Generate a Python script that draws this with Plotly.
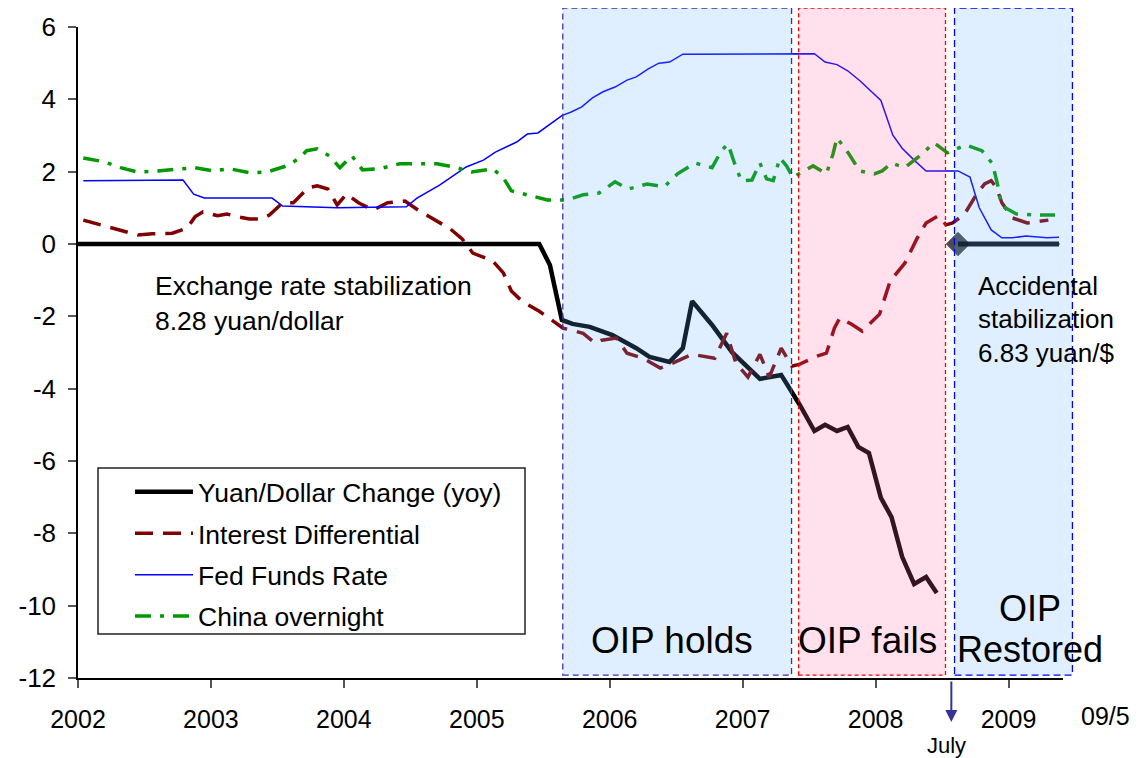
import plotly.graph_objects as go

# ---------------- data ----------------
yuan_x = [2002.0, 2005.47, 2005.55, 2005.64, 2005.72, 2005.85, 2006.02, 2006.20, 2006.30, 2006.45,
          2006.55, 2006.62, 2006.77, 2006.92, 2007.13, 2007.29, 2007.43, 2007.54, 2007.62, 2007.71,
          2007.79, 2007.87, 2007.95, 2008.04, 2008.12, 2008.20, 2008.29, 2008.38, 2008.46]
yuan_y = [0, 0, -0.58, -2.10, -2.21, -2.29, -2.52, -2.88, -3.12, -3.26,
          -2.88, -1.58, -2.24, -2.99, -3.73, -3.62, -4.45, -5.17, -5.00, -5.17,
          -5.06, -5.61, -5.78, -7.02, -7.55, -8.65, -9.40, -9.21, -9.65]

id_x = [2002.04, 2002.20, 2002.32, 2002.45, 2002.56, 2002.71, 2002.82, 2002.88, 2002.94, 2003.05,
        2003.12, 2003.20, 2003.29, 2003.38, 2003.44, 2003.54, 2003.62, 2003.67, 2003.73, 2003.80,
        2003.88, 2003.95, 2004.02, 2004.11, 2004.22, 2004.33, 2004.46, 2004.57, 2004.70, 2004.80,
        2004.89, 2004.97, 2005.12, 2005.20, 2005.26, 2005.34, 2005.47, 2005.57, 2005.65, 2005.71,
        2005.80, 2005.89, 2005.94, 2006.05, 2006.13, 2006.25, 2006.38, 2006.47, 2006.62, 2006.79,
        2006.88, 2006.95, 2007.04, 2007.13, 2007.20, 2007.29, 2007.37, 2007.43, 2007.56, 2007.63,
        2007.69, 2007.73, 2007.82, 2007.90, 2008.03, 2008.11, 2008.22, 2008.31, 2008.38, 2008.47,
        2008.53, 2008.58, 2008.67, 2008.76, 2008.82, 2008.87, 2008.91, 2008.95, 2009.03, 2009.14,
        2009.30]
id_y = [0.66, 0.50, 0.39, 0.25, 0.28, 0.30, 0.44, 0.75, 0.89, 0.78,
        0.83, 0.75, 0.69, 0.69, 0.80, 1.14, 1.14, 1.33, 1.55, 1.61,
        1.52, 1.08, 1.38, 1.14, 0.94, 1.14, 1.19, 0.91, 0.64, 0.42,
        0.14, -0.25, -0.47, -0.80, -1.30, -1.58, -1.86, -2.13, -2.33, -2.38,
        -2.47, -2.74, -2.66, -2.60, -3.02, -3.16, -3.43, -3.30, -3.05, -3.16,
        -2.47, -3.30, -3.68, -3.05, -3.68, -2.88, -3.38, -3.32, -3.10, -3.02,
        -2.33, -2.05, -2.22, -2.41, -1.94, -1.02, -0.53, 0.14, 0.58, 0.78,
        0.53, 0.58, 0.83, 1.38, 1.66, 1.75, 1.55, 1.14, 0.72, 0.58,
        0.66]

ff_x = [2002.04, 2002.79, 2002.87, 2002.95, 2003.46, 2003.54, 2003.95, 2004.20, 2004.47, 2004.55,
        2004.72, 2004.92, 2005.05, 2005.14, 2005.30, 2005.38, 2005.46, 2005.64, 2005.71, 2005.79,
        2005.87, 2005.95, 2006.04, 2006.13, 2006.20, 2006.29, 2006.37, 2006.45, 2006.55, 2007.54,
        2007.62, 2007.71, 2007.79, 2007.88, 2007.95, 2008.04, 2008.13, 2008.20, 2008.29, 2008.38,
        2008.62, 2008.71, 2008.78, 2008.87, 2008.95, 2009.03, 2009.13, 2009.29, 2009.38]
ff_y = [1.75, 1.77, 1.38, 1.27, 1.27, 1.05, 1.00, 1.02, 1.03, 1.27,
        1.63, 2.13, 2.32, 2.54, 2.82, 3.04, 3.07, 3.55, 3.65, 3.79,
        4.04, 4.21, 4.34, 4.53, 4.62, 4.84, 5.00, 5.03, 5.25, 5.26,
        5.03, 4.96, 4.79, 4.52, 4.28, 3.97, 3.01, 2.65, 2.32, 2.02,
        2.02, 1.85, 1.00, 0.39, 0.17, 0.17, 0.22, 0.17, 0.19]

co_x = [2002.04, 2002.20, 2002.32, 2002.45, 2002.60, 2002.75, 2002.88, 2003.02, 2003.14, 2003.29,
        2003.42, 2003.57, 2003.67, 2003.72, 2003.80, 2003.89, 2003.97, 2004.06, 2004.14, 2004.27,
        2004.42, 2004.55, 2004.70, 2004.83, 2004.96, 2005.12, 2005.20, 2005.26, 2005.40, 2005.53,
        2005.68, 2005.80, 2005.92, 2006.04, 2006.14, 2006.28, 2006.41, 2006.51, 2006.64, 2006.77,
        2006.84, 2006.89, 2006.94, 2006.99, 2007.07, 2007.13, 2007.18, 2007.23, 2007.28, 2007.33,
        2007.38, 2007.41, 2007.53, 2007.63, 2007.68, 2007.71, 2007.80, 2007.88, 2007.99, 2008.05,
        2008.12, 2008.22, 2008.35, 2008.44, 2008.54, 2008.68, 2008.80, 2008.88, 2008.92, 2008.95,
        2009.06, 2009.20, 2009.35]
co_y = [2.38, 2.27, 2.11, 1.99, 2.02, 2.08, 2.11, 2.02, 2.08, 1.97,
        1.99, 2.16, 2.38, 2.58, 2.63, 2.44, 2.11, 2.44, 2.05, 2.08,
        2.22, 2.22, 2.22, 2.13, 1.99, 2.08, 1.83, 1.47, 1.33, 1.22,
        1.22, 1.36, 1.41, 1.72, 1.52, 1.66, 1.58, 1.94, 2.24, 2.11,
        2.58, 2.77, 2.22, 1.75, 1.77, 2.24, 1.80, 1.75, 2.38, 2.16,
        1.83, 1.91, 2.16, 1.94, 2.49, 2.94, 2.49, 2.02, 1.94, 2.02,
        2.24, 2.11, 2.49, 2.80, 2.52, 2.74, 2.58, 2.22, 1.61, 1.05,
        0.83, 0.80, 0.80]

# accidental stabilization segment (6.83 yuan/$ peg)
stab_x = [2008.62, 2009.38]
stab_y = [0, 0]

# shaded regimes
regime_start = [2005.647, 2007.421, 2008.594]
regime_end = [2007.368, 2008.526, 2009.481]

tick_years = [2002, 2003, 2004, 2005, 2006, 2007, 2008, 2009]
tick_text = ["2002", "2003", "2004", "2005", "2006", "2007", "2008", "2009"]
y_ticks = [6, 4, 2, 0, -2, -4, -6, -8, -10, -12]
y_text = ["6", "4", "2", "0", "-2", "-4", "-6", "-8", "-10", "-12"]

X0, X1 = 2002.0, 2009.41
Y0, Y1 = -12.0, 6.0
FONT = "Arial, Liberation Sans, sans-serif"

fig = go.Figure()
fig.add_trace(go.Scatter(x=yuan_x, y=yuan_y, mode="lines", name="Yuan/Dollar Change (yoy)",
                         legendgroup="a", line=dict(color="#000000", width=4.5)))
fig.add_trace(go.Scatter(x=id_x, y=id_y, mode="lines", name="Interest Differential",
                         legendgroup="b", line=dict(color="#800000", width=3.5, dash="18px,10px")))
fig.add_trace(go.Scatter(x=ff_x, y=ff_y, mode="lines", name="Fed Funds Rate",
                         legendgroup="c", line=dict(color="#0000ff", width=1.5)))
fig.add_trace(go.Scatter(x=co_x, y=co_y, mode="lines", name="China overnight",
                         legendgroup="d", line=dict(color="#009900", width=3.5, dash="16px,9px,4px,9px")))
fig.add_trace(go.Scatter(x=stab_x, y=stab_y, mode="lines+markers", showlegend=False,
                         line=dict(color="#0a1018", width=5),
                         marker=dict(symbol=["diamond", "circle"], size=[18, 1], color="#000000")))


def px(year):
    return (year - X0) / (X1 - X0)


def py(v):
    return (v - Y0) / (Y1 - Y0)


fills = ["rgba(100,175,255,0.2)", "rgba(255,100,160,0.2)", "rgba(100,175,255,0.2)"]
borders = [("#3333aa", "6px,4px"), ("#ff0000", "4px,3px"), ("#0000ff", "7px,4px")]
shapes = []
for s, e, f, (bc, bd) in zip(regime_start, regime_end, fills, borders):
    shapes.append(dict(type="rect", xref="paper", yref="paper",
                       x0=px(s), x1=px(e), y0=py(-11.92), y1=py(6.525),
                       fillcolor=f, line=dict(color=bc, width=1.3, dash=bd), layer="above"))

# legend box (pixel geometry of the reference relative to the plot area)
PW, PH = 985.0, 651.0
shapes.append(dict(type="rect", xref="paper", yref="paper",
                   x0=(98 - 78) / PW, x1=(525 - 78) / PW,
                   y0=(678 - 634) / PH, y1=(678 - 468) / PH,
                   fillcolor="white", line=dict(color="#222", width=1.5), layer="above"))

annots = []
def txt(x, y, t, size=26, xanchor="center", xref="x", yref="y"):
    annots.append(dict(x=x, y=y, xref=xref, yref=yref, text=t, showarrow=False,
                       xanchor=xanchor, yanchor="middle", font=dict(family=FONT, size=size, color="#000")))

txt(2002.564, -1.16, "Exchange rate stabilization", size=26.5, xanchor="left")
txt(2002.564, -2.13, "8.28 yuan/dollar", size=26.5, xanchor="left")
txt(2008.757, -1.16, "Accidental", xanchor="left")
txt(2008.757, -2.07, "stabilization", xanchor="left")
txt(2008.757, -3.01, "6.83 yuan/$", xanchor="left")
txt(2006.47, -10.97, "OIP holds", size=37)
txt(2007.94, -10.97, "OIP fails", size=37)
txt(2009.16, -10.09, "OIP", size=36)
txt(2009.16, -11.20, "Restored", size=36)
txt(px(2008.53), -0.103, "July", size=22, xref="paper", yref="paper")
txt(px(2009.727), -0.058, "09/5", size=25, xref="paper", yref="paper")

annots.append(dict(x=2008.57, y=-0.0676, xref="x", yref="paper", text="", showarrow=True,
                   ax=0, ay=-42, arrowhead=2, arrowsize=1.2, arrowwidth=2, arrowcolor="#333399"))

fig.update_layout(
    width=1140, height=758,
    margin=dict(l=70, r=85, t=19, b=88, autoexpand=False),
    paper_bgcolor="white", plot_bgcolor="white",
    font=dict(family=FONT, color="#000"),
    shapes=shapes, annotations=annots,
    showlegend=True,
    legend=dict(x=(130 - 78) / PW, y=(678 - 468) / PH, xanchor="left", yanchor="top",
                bgcolor="rgba(0,0,0,0)", borderwidth=0,
                font=dict(family=FONT, size=26.5, color="#000"), itemwidth=58,
                tracegroupgap=4),
    xaxis=dict(range=[X0, X1], tickmode="array", tickvals=tick_years, ticktext=tick_text,
               showgrid=False, zeroline=False, showline=True, linecolor="#000", linewidth=1.5,
               ticks="outside", ticklen=8, tickcolor="#555", tickwidth=1.5, automargin=False,
               tickfont=dict(family=FONT, size=25, color="#000"), ticklabelstandoff=10),
    yaxis=dict(range=[Y0, Y1], tickmode="array", tickvals=y_ticks, ticktext=y_text,
               showgrid=False, zeroline=False, showline=True, linecolor="#000", linewidth=1.5,
               ticks="outside", ticklen=8, tickcolor="#555", tickwidth=1.5, automargin=False,
               tickfont=dict(family=FONT, size=26, color="#000"), ticklabelstandoff=7),
)

fig.write_html("out.html")
